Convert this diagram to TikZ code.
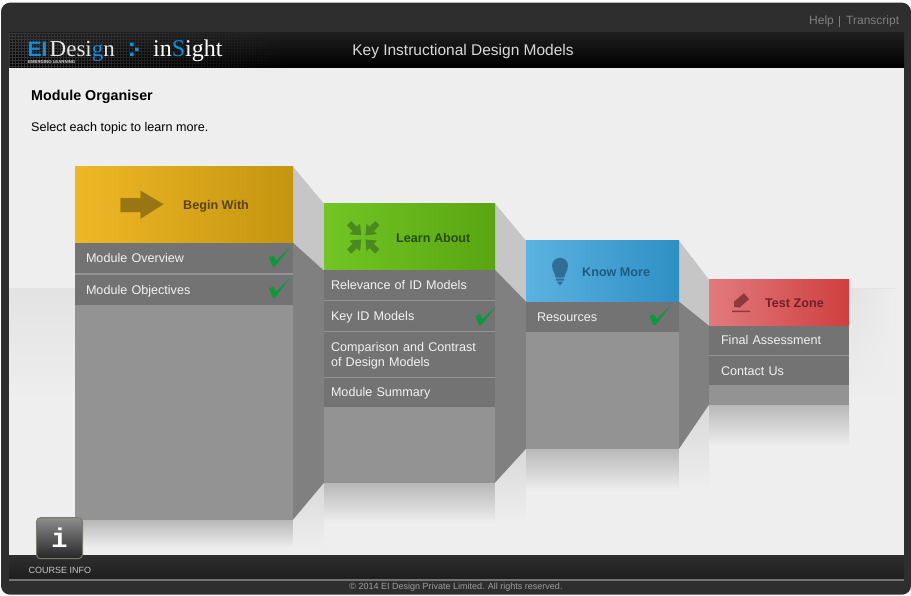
\documentclass[tikz,border=0pt]{standalone}
\usepackage{fontspec}
\setmainfont{Liberation Sans}
\newfontfamily\logofont{Liberation Serif}
\newfontfamily\slabfont{Liberation Mono}
\usetikzlibrary{positioning,fadings}
\definecolor{frame}{HTML}{2E2E2E}
\definecolor{page}{HTML}{EEEEEE}
\definecolor{band}{HTML}{E3E3E3}
\definecolor{item}{HTML}{737373}
\definecolor{body}{HTML}{939393}
\definecolor{sidedark}{HTML}{808080}
\definecolor{sidelight}{HTML}{C6C6C6}
\definecolor{tickgreen}{HTML}{0B9A3B}
\definecolor{logoblue}{HTML}{0F8FE0}
\definecolor{beginleft}{HTML}{EFB726}
\definecolor{beginright}{HTML}{C4950F}
\definecolor{begintext}{HTML}{5A420F}
\definecolor{beginicon}{HTML}{9A7514}
\definecolor{learnleft}{HTML}{72C524}
\definecolor{learnright}{HTML}{5AA512}
\definecolor{learntext}{HTML}{264D10}
\definecolor{learnicon}{HTML}{4A8A20}
\definecolor{knowleft}{HTML}{5BB2E0}
\definecolor{knowright}{HTML}{2F8FC4}
\definecolor{knowtext}{HTML}{1F5A80}
\definecolor{knowicon}{HTML}{2F6F95}
\definecolor{testleft}{HTML}{E27A7E}
\definecolor{testright}{HTML}{CF3F3F}
\definecolor{testtext}{HTML}{6F2226}
\definecolor{testicon}{HTML}{8D3A3C}
\begin{document}
\begin{tikzpicture}[x=1pt, y=-1pt,
        headbox/.style={rectangle, outer sep=0pt, inner sep=0pt, anchor=north west},
        bodybox/.style={rectangle, outer sep=0pt, inner sep=0pt, anchor=north west, fill=body},
        itembox/.style={rectangle, outer sep=0pt, inner xsep=11pt, inner ysep=0pt, fill=item, text=white!95!black,
            align=left, minimum height=30pt, text height=10pt, text depth=1pt, font=\fontsize{12.6}{15}\selectfont},
        headlabel/.style={font=\bfseries\fontsize{12.6}{15}\selectfont, anchor=west, inner sep=0pt},
        plain/.style={anchor=west, inner sep=0pt},
        tick/.pic={\fill [tickgreen] (-4,-10.5) -- (0.5,-12) -- (3,-7) -- (17,-20.5) -- (2,-1) -- (-0.5,-1) -- cycle;},
        squeeze/.pic={\fill [learnicon, #1] (3,0) -- (12,-7.5) -- (12,-3) -- (20,-3) -- (20,3) -- (12,3) -- (12,7.5) -- cycle;}]
    \useasboundingbox (0,-0.7) rectangle (911,595.3);

    % window and page
    \fill [frame, rounded corners=9pt] (1,2) rectangle (911,594);
    \fill [page] (9,67) rectangle (904,555);
    \shade [top color=band, bottom color=page] (9,288) rectangle (895,400);
    \fill [page, path fading=west] (850,288) rectangle (895,400);
    \shade [top color=black!88, bottom color=black] (9,32) rectangle (904,67);
    \draw [black!78, line width=0.4pt, path fading=east, step=3pt] (9,32) grid (290,67);
    \shade [top color=frame, bottom color=black!88] (9,555) rectangle (904,578);
    \fill [black!55] (9,578) rectangle (904,580);

    % header texts
    \node (help) [plain, text=black!50, font=\fontsize{12}{15}\selectfont] at (809,21) {Help};
    \node (transcript) [plain, text=black!50, font=\fontsize{12}{15}\selectfont] at (846,21) {Transcript};
    \fill [black!50] (838.7,15) rectangle (839.5,26);
    \node (title) [text=black!15, font=\fontsize{15.5}{18}\selectfont] at (463,51) {Key Instructional Design Models};
    \node (logoei) [anchor=base west, inner sep=0pt, text=logoblue, font=\bfseries\fontsize{21}{21}\selectfont] at (27.5,56) {EI};
    \node (logodesign) [anchor=base west, inner sep=0pt, text=black!10, font=\logofont\fontsize{23}{23}\selectfont] at (49.5,56) {Desi{\color{logoblue}g}n};
    \node (logosub) [plain, text=black!15, font=\bfseries\fontsize{4.3}{5}\selectfont] at (28,61) {EMERGING LEARNING};
    \node (logoinsight) [anchor=base west, inner sep=0pt, text=white, font=\logofont\fontsize{24}{24}\selectfont] at (153,56) {in{\color{logoblue}S}ight};
    \fill [logoblue] (130,42) rectangle (133.5,45.5) (135,47) rectangle (138.5,50.5) (130,52) rectangle (133.5,55.5);

    % page heading
    \node (heading) [plain, font=\bfseries\fontsize{14.3}{16}\selectfont] at (31,96.5) {Module Organiser};
    \node (hint) [plain, font=\fontsize{12.6}{15}\selectfont] at (31,128) {Select each topic to learn more.};

    % reflections under the steps
    \shade [top color=black!28, bottom color=page] (75,519) rectangle (293,547);
    \shade [top color=black!15, bottom color=page] (293,519) -- (324,482) -- (324,547) -- (293,547) -- cycle;
    \shade [top color=black!28, bottom color=page] (324,482) rectangle (495,522);
    \shade [top color=black!15, bottom color=page] (495,482) -- (526,448) -- (526,522) -- (495,522) -- cycle;
    \shade [top color=black!28, bottom color=page] (526,448) rectangle (679,490);
    \shade [top color=black!15, bottom color=page] (679,448) -- (709,404) -- (709,490) -- (679,490) -- cycle;
    \shade [top color=black!28, bottom color=page] (709,404) rectangle (849,445);

    % sides of the steps
    \fill [sidelight] (293,166) -- (324,203) -- (324,270) -- (293,242) -- cycle;
    \fill [sidedark] (293,242) -- (324,270) -- (324,482) -- (293,519) -- cycle;
    \fill [sidelight] (495,203) -- (526,240) -- (526,301) -- (495,269) -- cycle;
    \fill [sidedark] (495,269) -- (526,301) -- (526,448) -- (495,482) -- cycle;
    \fill [sidelight] (679,240) -- (709,279) -- (709,325) -- (679,301) -- cycle;
    \fill [sidedark] (679,301) -- (709,325) -- (709,404) -- (679,448) -- cycle;

    % begin with
    \node (beginhead) [headbox, minimum width=218pt, minimum height=76pt, left color=beginleft, right color=beginright] at (75,166) {};
    \node (beginbody) [bodybox, minimum width=218pt, minimum height=277pt] at (75,242) {};
    \node (overview) [itembox, text width=196pt, below=0pt of beginhead] {Module Overview};
    \node (objectives) [itembox, text width=196pt, below=2pt of overview] {Module Objectives};
    \fill [beginicon, draw=beginleft, draw opacity=0.6, line width=1pt]
        (120,197) -- (140,197) -- (140,189) -- (164.5,203.5) -- (140,219) -- (140,212) -- (120,212) -- cycle;
    \node (beginlabel) [headlabel, text=begintext] at (183,205.5) {Begin With};
    \pic at (273,267) {tick};
    \pic at (273,298) {tick};

    % learn about
    \node (learnhead) [headbox, minimum width=171pt, minimum height=66pt, left color=learnleft, right color=learnright] at (324,203) {};
    \node (learnbody) [bodybox, minimum width=171pt, minimum height=213pt] at (324,269) {};
    \node (relevance) [itembox, inner xsep=7pt, text width=157pt, below=0pt of learnhead] {Relevance of ID Models};
    \node (keymodels) [itembox, inner xsep=7pt, text width=157pt, below=1pt of relevance] {Key ID Models};
    \node (comparison) [itembox, inner xsep=7pt, text width=157pt, text height=9pt, text depth=13.5pt, minimum height=45pt, below=1pt of keymodels] {Comparison and Contrast\\of Design Models};
    \node (summary) [itembox, inner xsep=7pt, text width=157pt, minimum height=29pt, below=1pt of comparison] {Module Summary};
    \pic at (363.3,236.7) {squeeze={rotate=45}};
    \pic at (363.3,236.7) {squeeze={rotate=135}};
    \pic at (363.3,236.7) {squeeze={rotate=225}};
    \pic at (363.3,236.7) {squeeze={rotate=315}};
    \node (learnlabel) [headlabel, text=learntext] at (396,237.5) {Learn About};
    \pic at (479.5,325.5) {tick};

    % know more
    \node (knowhead) [headbox, minimum width=153pt, minimum height=61pt, left color=knowleft, right color=knowright] at (526,240) {};
    \node (knowbody) [bodybox, minimum width=153pt, minimum height=147pt] at (526,301) {};
    \node (resources) [itembox, text width=131pt, below=0pt of knowhead] {Resources};
    \fill [knowicon] (560,265) circle [radius=8];
    \fill [knowicon] (552.5,268) -- (567.5,268) -- (564,277) -- (556,277) -- cycle (556,278) rectangle (564,280) (557,281) -- (563,281) -- (560,285) -- cycle;
    \node (knowlabel) [headlabel, text=knowtext] at (582,271.5) {Know More};
    \pic at (653.5,325.5) {tick};

    % test zone
    \node (testhead) [headbox, minimum width=140pt, minimum height=46pt, left color=testleft, right color=testright] at (709,279) {};
    \node (testbody) [bodybox, minimum width=140pt, minimum height=79pt] at (709,325) {};
    \node (assessment) [itembox, inner xsep=12pt, text width=116pt, minimum height=29pt, below=0pt of testhead] {Final Assessment};
    \node (contact) [itembox, inner xsep=12pt, text width=116pt, minimum height=29pt, below=1.5pt of assessment] {Contact Us};
    \fill [testicon] (734,301) -- (744,292.5) -- (749,298.5) -- (739.5,307) -- (734,306) -- cycle (732,310) rectangle (750,311.5);
    \node (testlabel) [headlabel, text=testtext] at (765,302.5) {Test Zone};

    % course info
    \node (infobutton) [rectangle, rounded corners=4pt, draw=black!60!yellow!35!black!70, line width=1pt, minimum width=46pt, minimum height=41pt,
        top color=black!45, bottom color=black!85, middle color=black!65, anchor=north west, outer sep=0pt, inner sep=0pt,
        text=white, font=\slabfont\bfseries\fontsize{27}{27}\selectfont] at (36.5,517) {i};
    \node (courseinfo) [plain, text=black!22, font=\fontsize{9}{10}\selectfont] at (28.5,569.5) {COURSE INFO};
    \node (copyright) [text=black!38, font=\fontsize{9}{10}\selectfont] at (456,586) {© 2014 EI Design Private Limited. All rights reserved.};
\end{tikzpicture}
\end{document}
